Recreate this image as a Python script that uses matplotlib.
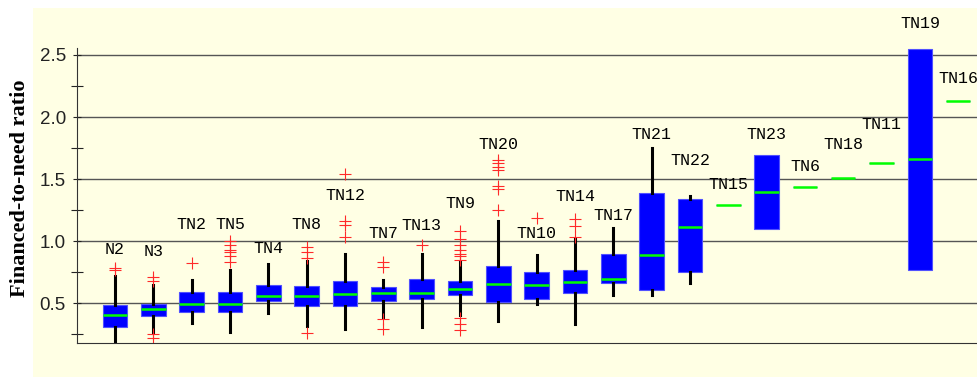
import matplotlib
matplotlib.use("Agg")
import matplotlib.pyplot as plt
from matplotlib.patches import Rectangle

names = ["N2", "N3", "TN2", "TN5", "TN4", "TN8", "TN12", "TN7", "TN13", "TN9", "TN20", "TN10",
         "TN14", "TN17", "TN21", "TN22", "TN15", "TN23", "TN6", "TN18", "TN11", "TN19", "TN16"]
q1 = [0.31, 0.40, 0.43, 0.43, 0.516, 0.478, 0.478, 0.518, 0.53, 0.564, 0.51, 0.532,
      0.578, 0.663, 0.61, 0.754, 1.287, 1.094, 1.433, 1.509, 1.626, 0.77, 2.132]
med = [0.404, 0.45, 0.494, 0.494, 0.556, 0.556, 0.57, 0.583, 0.58, 0.612, 0.652, 0.65,
       0.67, 0.698, 0.89, 1.11, 1.287, 1.393, 1.433, 1.509, 1.626, 1.658, 2.132]
q3 = [0.486, 0.497, 0.586, 0.586, 0.65, 0.636, 0.68, 0.63, 0.693, 0.68, 0.80, 0.75,
      0.765, 0.90, 1.388, 1.34, 1.287, 1.696, 1.433, 1.509, 1.626, 2.549, 2.132]
whislo = [0.17, 0.27, 0.337, 0.267, 0.417, 0.315, 0.29, 0.39, 0.31, 0.404, 0.356, 0.49,
          0.33, 0.564, 0.564, 0.663, 1.287, 1.094, 1.433, 1.509, 1.626, 0.77, 2.132]
whishi = [0.717, 0.645, 0.69, 0.765, 0.813, 0.837, 0.90, 0.685, 0.90, 0.83, 1.166, 0.885,
          1.02, 1.104, 1.754, 1.367, 1.287, 1.696, 1.433, 1.509, 1.626, 2.549, 2.132]
fliers = [
    [0.77, 0.78],
    [0.25, 0.22, 0.68, 0.71],
    [0.82],
    [0.83, 0.88, 0.91, 0.93, 0.97, 1.0],
    [],
    [0.26, 0.86, 0.91, 0.95],
    [1.03, 1.13, 1.16, 1.54],
    [0.37, 0.29, 0.79, 0.83],
    [0.97],
    [0.38, 0.33, 0.28, 0.85, 0.88, 0.90, 0.93, 0.97, 1.02, 1.08],
    [1.25, 1.42, 1.44, 1.57, 1.60, 1.63, 1.65],
    [1.19],
    [1.03, 1.12, 1.18],
    [], [], [], [], [], [], [], [], [], [],
]
# height where each group name is written
label_y = [0.93, 0.92, 1.13, 1.13, 0.94, 1.13, 1.367, 1.06, 1.126, 1.30, 1.776, 1.064,
           1.359, 1.21, 1.86, 1.648, 1.455, 1.86, 1.60, 1.78, 1.94, 2.75, 2.31]

stats = []
for i in range(len(names)):
    stats.append(dict(label=names[i], q1=q1[i], med=med[i], q3=q3[i],
                      whislo=whislo[i], whishi=whishi[i], fliers=fliers[i]))

plt.rcParams["font.family"] = ["Liberation Sans", "DejaVu Sans"]
fig = plt.figure(figsize=(9.77, 3.77), dpi=100, facecolor="white")
fig.patches.append(Rectangle((33 / 977, 0), 1, 1 - 8 / 377, transform=fig.transFigure,
                             facecolor="#FFFFE4", edgecolor="none", zorder=-5))
ax = fig.add_axes([77 / 977, 33.7 / 377, 1 - 77 / 977, (343.3 - 48) / 377])
ax.set_facecolor("none")

pos = list(range(1, len(names) + 1))
ax.bxp(stats, positions=pos, widths=0.64, patch_artist=True, showcaps=False,
       boxprops=dict(facecolor="#0000FF", edgecolor="#5050FF", linewidth=0.8),
       medianprops=dict(color="#00FF00", linewidth=1.8),
       whiskerprops=dict(color="black", linewidth=2.2),
       flierprops=dict(marker="+", markeredgecolor="#FF2a2a", markersize=9, markeredgewidth=0.8))

for x, y, n in zip(pos, label_y, names):
    ax.text(x, y, n, ha="center", va="center", fontsize=12, family="Liberation Mono",
            color="black", clip_on=False)

ax.set_xlim(0.01, 23.49)
ax.set_ylim(0.1765, 2.556)
ax.set_yticks([0.5, 1.0, 1.5, 2.0, 2.5])
ax.set_yticks([0.25, 0.75, 1.25, 1.75, 2.25], minor=True)
ax.set_yticklabels(["0.5", "1.0", "1.5", "2.0", "2.5"])
ax.set_xticks([])
ax.tick_params(axis="y", which="both", direction="inout", length=8, width=0.8,
               labelsize=13.5, pad=5, colors="#222222")
ax.tick_params(axis="y", which="major", length=6)
ax.grid(True, axis="y", color="#555555", linewidth=1.0)
ax.set_axisbelow(True)
ax.spines["top"].set_visible(False)
ax.spines["right"].set_visible(False)
ax.spines["left"].set_color("#333333")
ax.spines["bottom"].set_color("#333333")

fig.text(20 / 977, 1 - 188.5 / 377, "Financed-to-need ratio", rotation=90, ha="center",
         va="center", fontsize=16, fontweight="bold", family="Liberation Serif")

fig.savefig("out.png", dpi=100)
